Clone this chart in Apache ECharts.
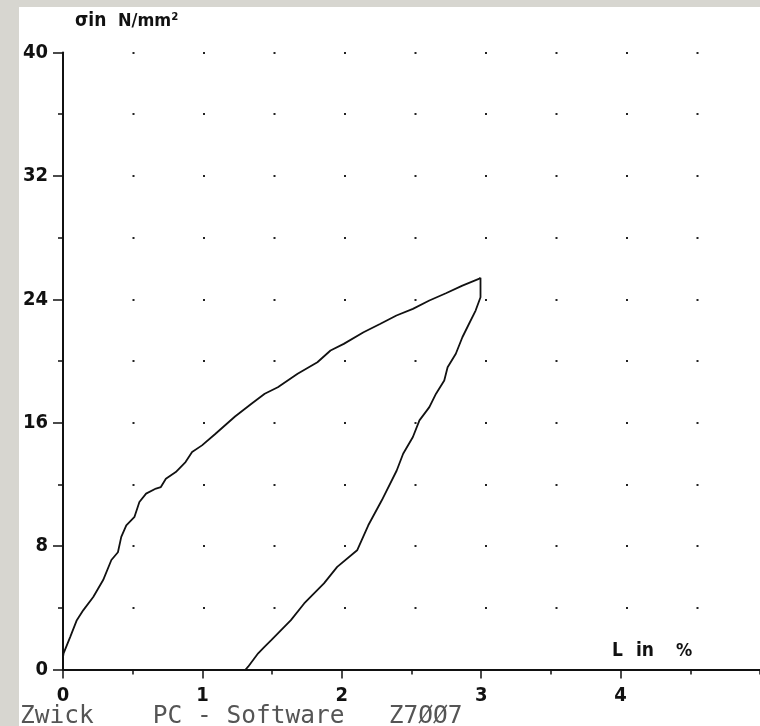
<!DOCTYPE html>
<html>
<head>
<meta charset="utf-8">
<script src="https://cdn.jsdelivr.net/npm/echarts@6/dist/echarts.min.js"></script>
<style>
  html, body { margin: 0; padding: 0; background: #d7d6d0; }
  #paper { position: absolute; left: 19px; top: 7px; right: 0; bottom: 0; background: #fff; }
  #chart { position: absolute; left: 0; top: 0; width: 760px; height: 726px; }
</style>
</head>
<body>
<div id="paper"></div>
<div id="chart"></div>
<script>
// loading branch: strain L in %, stress sigma in N/mm2
const loadStrain = [0, 0, 0.004, 0.052, 0.099, 0.146, 0.217, 0.288, 0.347, 0.394, 0.418, 0.454, 0.513, 0.548, 0.596, 0.667, 0.702, 0.738, 0.809, 0.879, 0.926, 0.997, 1.09, 1.234, 1.352, 1.447, 1.541, 1.683, 1.825, 1.919, 2.014, 2.156, 2.274, 2.392, 2.51, 2.628, 2.747, 2.865, 2.983, 2.995]
const loadStress = [0, 0.8, 1.05, 2.12, 3.2, 3.85, 4.7, 5.8, 7.1, 7.6, 8.6, 9.35, 9.9, 10.86, 11.4, 11.73, 11.83, 12.37, 12.8, 13.45, 14.1, 14.53, 15.25, 16.4, 17.23, 17.88, 18.3, 19.17, 19.92, 20.68, 21.11, 21.86, 22.4, 22.95, 23.38, 23.92, 24.39, 24.89, 25.32, 25.39]

// unloading branch
const unloadStrain = [2.995, 2.995, 2.96, 2.912, 2.865, 2.818, 2.759, 2.735, 2.676, 2.628, 2.557, 2.51, 2.44, 2.394, 2.287, 2.19, 2.11, 1.967, 1.872, 1.73, 1.635, 1.494, 1.447, 1.4, 1.328, 1.31]
const unloadStress = [25.39, 24.13, 23.27, 22.4, 21.54, 20.47, 19.6, 18.74, 17.88, 17.01, 16.15, 15.07, 13.99, 12.9, 10.97, 9.35, 7.73, 6.65, 5.58, 4.28, 3.2, 1.9, 1.48, 1.05, 0.18, 0]

const xTicks = [0, 1, 2, 3, 4]
const yTicks = [0, 8, 16, 24, 32, 40]

const numFont = "'DejaVu Sans Condensed', 'Liberation Sans', sans-serif"
const pair = (xs, ys) => xs.map((x, i) => [x, ys[i]])

const chart = echarts.init(document.getElementById('chart'), null, { renderer: 'canvas' })

chart.setOption({
  backgroundColor: 'transparent',
  animation: false,
  grid: { left: 63, top: 52.5, right: -8, bottom: 56.5, containLabel: false },
  xAxis: [
    {
      type: 'value', min: 0, max: 5, interval: 1,
      axisLine: { lineStyle: { color: '#111', width: 2 } },
      axisTick: { length: 9, lineStyle: { color: '#111', width: 1.5 } },
      axisLabel: {
        margin: 16, color: '#111', fontSize: 20, fontWeight: 'bold', fontFamily: numFont,
        showMaxLabel: false,
        formatter: (v) => xTicks.includes(v) ? String(v) : ''
      },
      splitLine: { show: false }
    },
    {
      type: 'value', min: 0, max: 5, interval: 0.5, position: 'bottom',
      axisLine: { show: false },
      axisTick: { length: 5, lineStyle: { color: '#111', width: 1.5 } },
      axisLabel: { show: false },
      splitLine: { show: false }
    }
  ],
  yAxis: [
    {
      type: 'value', min: 0, max: 40, interval: 8,
      axisLine: { lineStyle: { color: '#111', width: 2 } },
      axisTick: { length: 10, lineStyle: { color: '#111', width: 1.5 } },
      axisLabel: {
        margin: 15, color: '#111', fontSize: 20, fontWeight: 'bold', fontFamily: numFont,
        formatter: (v) => yTicks.includes(v) ? String(v) : ''
      },
      splitLine: { show: false }
    },
    {
      type: 'value', min: 0, max: 40, interval: 4, position: 'left',
      axisLine: { show: false },
      axisTick: { length: 5, lineStyle: { color: '#111', width: 1.5 } },
      axisLabel: { show: false },
      // dotted grid: one dot every 0.5 % along each 4 N/mm2 line
      splitLine: {
        show: true,
        lineStyle: { color: '#222', width: 2, type: [2, 68.5], dashOffset: 1 }
      }
    }
  ],
  series: [
    {
      name: 'Belastung', type: 'line', xAxisIndex: 0, yAxisIndex: 0,
      data: pair(loadStrain, loadStress),
      showSymbol: false, smooth: false,
      lineStyle: { color: '#111', width: 1.8 }
    },
    {
      name: 'Entlastung', type: 'line', xAxisIndex: 0, yAxisIndex: 0,
      data: pair(unloadStrain, unloadStress),
      showSymbol: false, smooth: false,
      lineStyle: { color: '#111', width: 1.8 }
    }
  ],
  graphic: [
    { type: 'text', left: 75, top: 12, style: { text: 'σin', fill: '#111', font: "bold 19px 'DejaVu Sans Condensed', sans-serif" } },
    { type: 'text', left: 118, top: 12, style: { text: 'N/mm²', fill: '#111', font: "bold 18px 'DejaVu Sans Condensed', sans-serif" } },
    { type: 'text', left: 612, top: 642, style: { text: 'L', fill: '#111', font: "bold 19px " + numFont } },
    { type: 'text', left: 636, top: 642, style: { text: 'in', fill: '#111', font: "bold 19px " + numFont } },
    { type: 'text', left: 676, top: 642, style: { text: '%', fill: '#111', font: "bold 18px " + numFont } },
    { type: 'text', left: 20, top: 704, style: { text: 'Zwick    PC - Software   Z7ØØ7', fill: '#555', font: "24.5px 'DejaVu Sans Mono', monospace" } }
  ]
})
</script>
</body>
</html>
